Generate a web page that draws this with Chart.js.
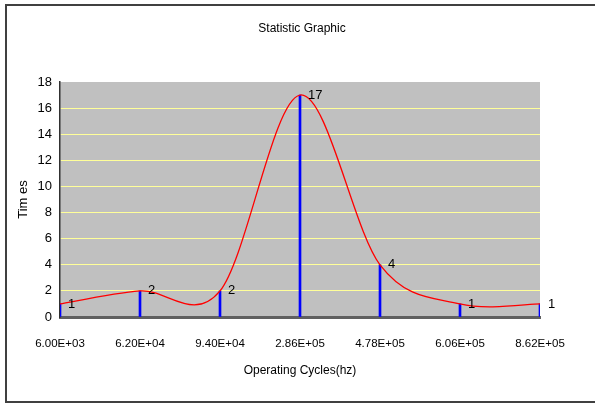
<!DOCTYPE html>
<html>
<head>
<meta charset="utf-8">
<script src="https://cdn.jsdelivr.net/npm/chart.js@4/dist/chart.umd.min.js"></script>
<style>
  html, body { margin: 0; padding: 0; background: #ffffff; }
  #c { display: block; }
</style>
</head>
<body>
<canvas id="c" width="595" height="405"></canvas>
<script>
// ---- data ----
const categories = ['6.00E+03', '6.20E+04', '9.40E+04', '2.86E+05', '4.78E+05', '6.06E+05', '8.62E+05'];
const timesValues = [1, 2, 2, 17, 4, 1, 1];
const yTicks = [0, 2, 4, 6, 8, 10, 12, 14, 16, 18];
const chartTitle = 'Statistic Graphic';
const xTitle = 'Operating Cycles(hz)';
const yTitle = 'Tim es';

const FONT = "'Liberation Sans', Arial, sans-serif";

const framePlugin = {
  id: 'frame',
  beforeDraw(chart) {
    const ctx = chart.ctx;
    const a = chart.chartArea;
    ctx.save();
    ctx.fillStyle = '#ffffff';
    ctx.fillRect(0, 0, chart.width, chart.height);
    ctx.strokeStyle = '#404040';
    ctx.lineWidth = 2;
    ctx.strokeRect(6, 5, chart.width + 10, chart.height - 8);
    ctx.fillStyle = '#c0c0c0';
    ctx.fillRect(a.left, a.top, a.right - a.left, a.bottom - a.top);
    ctx.restore();
  },
  afterDraw(chart) {
    const ctx = chart.ctx;
    ctx.save();
    ctx.fillStyle = '#000000';
    ctx.textAlign = 'center';
    ctx.textBaseline = 'middle';
    ctx.font = '12px ' + FONT;
    ctx.fillText(chartTitle, 302, 29);
    ctx.fillText(xTitle, 300, 371);
    ctx.restore();
  }
};

// Excel-style smoothing: uniform Catmull-Rom control points on the
// pixel positions that Chart.js computed from the scales.
const smoothPlugin = {
  id: 'excelSmooth',
  beforeDatasetsDraw(chart) {
    const meta = chart.getDatasetMeta(1);
    const line = meta.dataset;
    const pts = meta.data;
    const n = pts.length;
    for (let i = 0; i < n; i++) {
      const p = pts[i];
      const prev = pts[Math.max(i - 1, 0)];
      const next = pts[Math.min(i + 1, n - 1)];
      const dx = (next.x - prev.x) / 6;
      const dy = (next.y - prev.y) / 6;
      p.cp1x = p.x - dx; p.cp1y = p.y - dy;
      p.cp2x = p.x + dx; p.cp2y = p.y + dy;
    }
    line._pointsUpdated = true;
  }
};

const valueLabelPlugin = {
  id: 'valueLabels',
  afterDatasetsDraw(chart) {
    const meta = chart.getDatasetMeta(1);
    const ctx = chart.ctx;
    ctx.save();
    ctx.fillStyle = '#000000';
    ctx.font = '13px ' + FONT;
    ctx.textAlign = 'left';
    ctx.textBaseline = 'middle';
    meta.data.forEach((pt, i) => {
      ctx.fillText(String(timesValues[i]), pt.x + 8, pt.y);
    });
    ctx.restore();
  }
};

new Chart(document.getElementById('c'), {
  data: {
    labels: categories,
    datasets: [
      {
        type: 'bar',
        data: timesValues,
        backgroundColor: '#0000ff',
        borderWidth: 0,
        barThickness: 2,
        order: 1
      },
      {
        type: 'line',
        data: timesValues,
        borderColor: '#ff0000',
        borderWidth: 1.3,
        pointRadius: 0,
        tension: 0.4,
        fill: false,
        order: 0
      }
    ]
  },
  options: {
    responsive: false,
    animation: false,
    layout: { padding: { left: 0, top: 82, right: 55, bottom: 0 } },
    plugins: {
      legend: { display: false },
      tooltip: { enabled: false },
      title: { display: false }
    },
    scales: {
      x: {
        type: 'category',
        offset: false,
        grid: { display: false },
        border: { display: true, color: '#606060', width: 3 },
        ticks: {
          color: '#000000',
          font: { family: FONT, size: 11.5 },
          padding: 12,
          maxRotation: 0,
          autoSkip: false
        },
        afterFit(scale) { scale.height = 88; }
      },
      y: {
        min: 0,
        max: 18,
        afterBuildTicks(scale) { scale.ticks = yTicks.map(v => ({ value: v })); },
        grid: {
          color: (c) => (c.tick && (c.tick.value === 0 || c.tick.value === 18)) ? 'rgba(0,0,0,0)' : '#ffff99',
          lineWidth: 1,
          drawTicks: false
        },
        border: { display: true, color: '#303030', width: 1.5 },
        ticks: {
          color: '#000000',
          font: { family: FONT, size: 13 },
          padding: 8
        },
        title: {
          display: true,
          text: yTitle,
          color: '#000000',
          font: { family: FONT, size: 13 },
          padding: { top: 16, bottom: 0 }
        },
        afterFit(scale) { scale.width = 60; }
      }
    }
  },
  plugins: [framePlugin, smoothPlugin, valueLabelPlugin]
});
</script>
</body>
</html>
